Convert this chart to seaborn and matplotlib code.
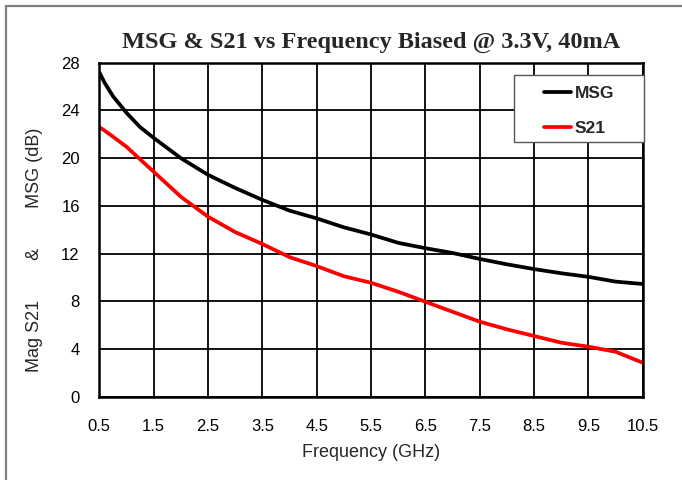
import pandas as pd
import seaborn as sns
import matplotlib.pyplot as plt
from matplotlib.patches import Rectangle
from matplotlib.lines import Line2D

# valores
freq = [0.5, 0.6, 0.75, 1.0, 1.25, 1.5, 2.0, 2.5, 3.0, 3.5, 4.0, 4.5, 5.0, 5.5,
        6.0, 6.5, 7.0, 7.5, 8.0, 8.5, 9.0, 9.5, 10.0, 10.5]
msg = [27.2, 26.3, 25.2, 23.8, 22.6, 21.7, 20.0, 18.6, 17.5, 16.5, 15.6, 14.95, 14.2, 13.6,
       12.9, 12.45, 12.05, 11.55, 11.1, 10.7, 10.35, 10.05, 9.65, 9.45]
s21 = [22.6, 22.3, 21.8, 20.95, 19.9, 18.86, 16.76, 15.09, 13.8, 12.8, 11.7, 10.95, 10.1, 9.55,
       8.8, 7.96, 7.12, 6.29, 5.65, 5.09, 4.53, 4.19, 3.77, 2.85]
xticks = [0.5, 1.5, 2.5, 3.5, 4.5, 5.5, 6.5, 7.5, 8.5, 9.5, 10.5]
yticks = [0, 4, 8, 12, 16, 20, 24, 28]

df = pd.DataFrame({'Frequency': freq * 2,
                   'Gain': msg + s21,
                   'Serie': ['MSG'] * len(freq) + ['S21'] * len(freq)})

sns.set_style('white')
plt.rcParams['font.family'] = ['Liberation Sans', 'DejaVu Sans']

fig = plt.figure(figsize=(6.82, 4.8), dpi=100)
ax = fig.add_axes([0.1456, 0.1735, 0.7968, 0.6959])

sns.lineplot(data=df, x='Frequency', y='Gain', hue='Serie',
             palette={'MSG': 'black', 'S21': '#ff0000'},
             linewidth=2.7, ax=ax, legend=False)

ax.set_xlim(0.5, 10.5)
ax.set_ylim(0, 28)
ax.set_xticks(xticks)
ax.set_xticklabels([str(t) for t in xticks])
ax.set_yticks(yticks)
ax.grid(True, color='black', linewidth=1.3)
ax.set_axisbelow(True)
for s in ax.spines.values():
    s.set_color('black')
    s.set_linewidth(1.8)
ax.tick_params(axis='x', length=0, pad=16, labelsize=12, colors='black')
ax.tick_params(axis='y', length=0, pad=14, labelsize=12, colors='black')

ax.set_xlabel('Frequency (GHz)', fontsize=13, labelpad=7)
ax.set_ylabel('Mag S21        &        MSG (dB)', fontsize=13)
ax.yaxis.set_label_coords(-0.104, 0.44)
ax.set_title('MSG & S21 vs Frequency Biased @ 3.3V, 40mA',
             family='Liberation Serif', fontweight='bold', fontsize=17.5, pad=11)

# leyenda
box = Rectangle((514 / 682, 1 - 142 / 480), 130 / 682, 67 / 480,
                transform=fig.transFigure, facecolor='white',
                edgecolor='#555555', linewidth=1.0, zorder=5)
fig.patches.append(box)
handles = [Line2D([], [], color='black', linewidth=2.7),
           Line2D([], [], color='#ff0000', linewidth=2.7)]
leg = fig.legend(handles, ['MSG', 'S21'], loc='upper left',
                 bbox_to_anchor=(528 / 682, 1 - 70 / 480), frameon=False,
                 prop={'weight': 'bold', 'size': 12.5}, handlelength=1.6,
                 handletextpad=0.2, labelspacing=1.15)
leg.set_zorder(6)

# marco exterior
fig.patches.append(Rectangle((6 / 682, -0.05), 1.1, 1 - 6 / 480 + 0.05,
                             transform=fig.transFigure, fill=False,
                             edgecolor='#808080', linewidth=1.6))

plt.savefig('out.png', dpi=100)
